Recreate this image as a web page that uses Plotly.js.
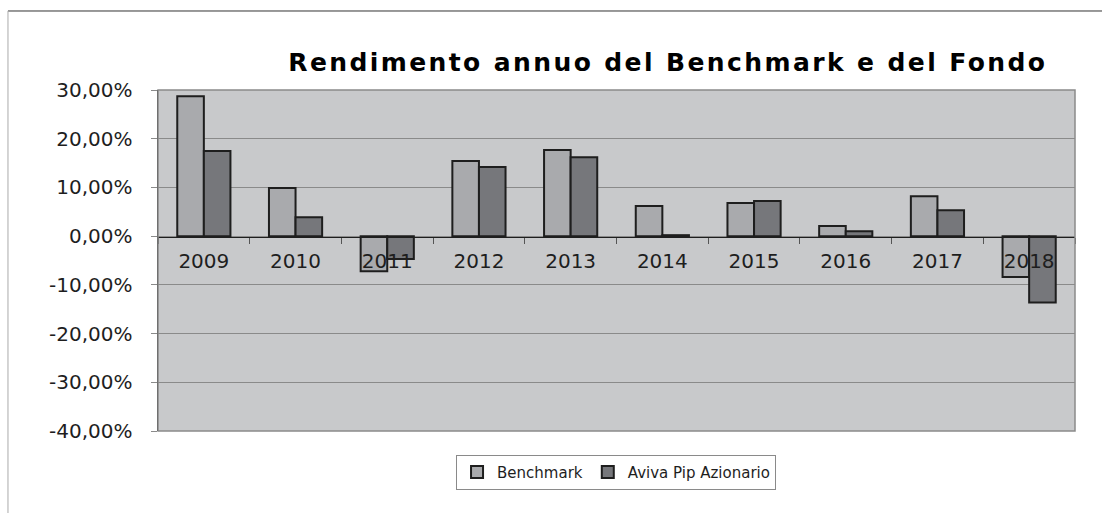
<!DOCTYPE html>
<html>
<head>
<meta charset="utf-8">
<script src="https://cdn.plot.ly/plotly-3.0.1.min.js"></script>
<style>
html,body{margin:0;padding:0;background:#fff}
#plot{width:1102px;height:513px}
#plot .gtitle{letter-spacing:2.4px}
</style>
</head>
<body>
<div id="plot"></div>
<script>

const years = ["2009","2010","2011","2012","2013","2014","2015","2016","2017","2018"]

const benchmark = [0.287,0.099,-0.072,0.154,0.177,0.062,0.068,0.021,0.082,-0.084]

const fondo = [0.175,0.039,-0.047,0.142,0.162,0.002,0.072,0.010,0.053,-0.136]

const seriesNames = ["Benchmark","Aviva Pip Azionario"]

const yTicks = [0.3,0.2,0.1,0,-0.1,-0.2,-0.3,-0.4]
const yTickText = ["30,00%","20,00%","10,00%","0,00%","-10,00%","-20,00%","-30,00%","-40,00%"]

const trace1={
x:years,
y:benchmark,
type:"bar",
name:seriesNames[0],
marker:{color:"#a9aaad",line:{color:"#1e1e1e",width:2}},
hoverinfo:"skip"
}

const trace2={
x:years,
y:fondo,
type:"bar",
name:seriesNames[1],
marker:{color:"#76777b",line:{color:"#1e1e1e",width:2}},
hoverinfo:"skip"
}

const font = "DejaVu Sans, Verdana, sans-serif"

const layout={
width:1102,
height:513,
margin:{l:158,r:27,t:90,b:82},
paper_bgcolor:"#ffffff",
plot_bgcolor:"#c8c9cb",
font:{family:font,color:"#1e1e1e",size:19},
title:{
text:"<b>Rendimento annuo del Benchmark e del Fondo</b>",
font:{family:font,size:25,color:"#000"},
x:0.606,xanchor:"center",
y:0.879,yanchor:"middle"
},
barmode:"group",
bargap:0.42,
bargroupgap:0,
showlegend:true,
legend:{
orientation:"h",
x:0.4995,xanchor:"center",
y:-0.07,yanchor:"top",
bordercolor:"#8a8a8a",
borderwidth:1,
bgcolor:"#ffffff",
font:{family:font,size:15,color:"#1e1e1e"},
itemwidth:30,
tracegroupgap:0,
traceorder:"normal"
},
xaxis:{
type:"category",
anchor:"free",
position:0.569,
showline:true,
linecolor:"#1e1e1e",
linewidth:1,
ticks:"outside",
tickson:"boundaries",
ticklen:6,
tickcolor:"#555",
ticklabelstandoff:6,
tickfont:{size:20,color:"#1e1e1e"},
showgrid:false,
zeroline:false,
fixedrange:true
},
yaxis:{
range:[-0.4,0.3],
tickvals:yTicks,
ticktext:yTickText,
showgrid:true,
gridcolor:"#8a8a8a",
gridwidth:1,
zeroline:false,
showline:true,
linecolor:"#1e1e1e",
linewidth:1.5,
ticks:"outside",
ticklen:6,
tickcolor:"#8a8a8a",
ticklabelstandoff:14,
tickfont:{size:20,color:"#1e1e1e"},
fixedrange:true
},
shapes:[
{type:"rect",xref:"paper",yref:"paper",x0:0,x1:1,y0:0,y1:1,
line:{color:"#8a8a8a",width:1.5},layer:"above"},
{type:"line",xref:"paper",yref:"paper",x0:-0.1636,x1:1.05,y0:1.2317,y1:1.2317,
line:{color:"#333",width:1}},
{type:"line",xref:"paper",yref:"paper",x0:-0.1636,x1:-0.1636,y0:1.2317,y1:-0.25,
line:{color:"#aaa",width:1}}
]
}

Plotly.newPlot("plot",[trace1,trace2],layout,{displayModeBar:false,staticPlot:true})

</script>
</body>
</html>
